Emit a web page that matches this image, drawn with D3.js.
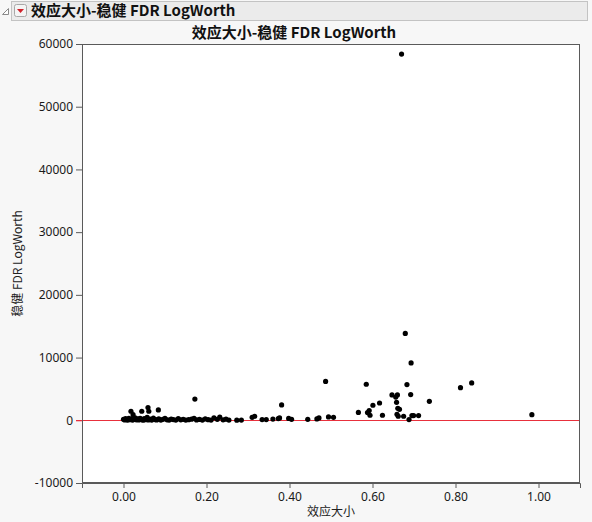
<!DOCTYPE html>
<html>
<head>
<meta charset="utf-8">
<script src="https://cdn.jsdelivr.net/npm/d3@7"></script>
<style>
  body { margin: 0; background: #f7f7f7; }
  svg { display: block; }
</style>
</head>
<body>
<svg width="592" height="522"></svg>
<script>
// values
var titleText = "效应大小-稳健 FDR LogWorth";
var xLabel = "效应大小";
var yLabel = "稳健 FDR LogWorth";

var xTicks = [0, 0.2, 0.4, 0.6, 0.8, 1.0];
var yTicks = [-10000, 0, 10000, 20000, 30000, 40000, 50000, 60000];

// effect size
var effect = [
  0.000, 0.003, 0.005, 0.008, 0.010, 0.013, 0.016, 0.019, 0.022, 0.025,
  0.028, 0.031, 0.034, 0.037, 0.040, 0.043, 0.047, 0.050, 0.053, 0.057,
  0.060, 0.064, 0.068, 0.072, 0.076, 0.080, 0.085, 0.090, 0.095, 0.100,
  0.105, 0.110, 0.115, 0.120, 0.126, 0.132, 0.138, 0.144, 0.150, 0.157,
  0.164, 0.170, 0.176, 0.183, 0.190, 0.197, 0.204, 0.211, 0.218, 0.226,
  0.232, 0.240, 0.247, 0.254, 0.273, 0.284,
  0.018, 0.023, 0.044, 0.059, 0.061, 0.084, 0.172,
  0.310, 0.316, 0.334, 0.344, 0.360, 0.373, 0.376, 0.381,
  0.398, 0.405, 0.444, 0.466, 0.471, 0.487, 0.494, 0.506,
  0.566, 0.585, 0.588, 0.592, 0.594, 0.601, 0.617, 0.624,
  0.647, 0.656, 0.658, 0.659, 0.660, 0.661, 0.662, 0.665, 0.670, 0.675,
  0.679, 0.683, 0.688, 0.692, 0.693, 0.695, 0.699, 0.711, 0.737,
  0.812, 0.839, 0.984
];
// robust FDR LogWorth
var logWorth = [
  150, 60, 250, 120, 40, 300, 90, 200, 30, 160,
  380, 80, 220, 50, 300, 130, 20, 260, 100, 450,
  60, 200, 30, 350, 120, 60, 240, 40, 150, 320,
  80, 40, 200, 110, 30, 260, 70, 150, 40, 90,
  180, 300, 60, 140, 30, 220, 90, 40, 400, 160,
  500, 80, 180, 40, 20, 30,
  1440, 900, 1440, 2030, 1440, 1650, 3380,
  480, 640, 110, 110, 200, 270, 370, 2450,
  300, 160, 160, 210, 370, 6200, 530, 480,
  1250, 5750, 1230, 1550, 800, 2400, 2760, 800,
  4050, 3700, 2870, 950, 4050, 1900, 640, 1750, 58400, 640,
  13850, 5700, 110, 4100, 9150, 750, 750, 750, 3030,
  5200, 5950, 900
];

var svg = d3.select("svg");
var width = +svg.attr("width");
var height = +svg.attr("height");

var margin = {left: 82, right: 12, top: 44, bottom: 39};
var plotW = width - margin.left - margin.right;
var plotH = height - margin.top - margin.bottom;

var cjk = "'Noto Sans CJK SC', 'Noto Sans', sans-serif";
var tickFont = "'Noto Sans', 'DejaVu Sans', sans-serif";

// outline header bar
svg.append("rect")
  .attr("x", 11.5).attr("y", 1.5).attr("width", 576).attr("height", 19)
  .attr("fill", "#ebebeb").attr("stroke", "#c3c3c3");
// disclosure triangle
svg.append("path")
  .attr("d", "M2.5,14.5 L8.5,8.5 L8.5,14.5 Z")
  .attr("fill", "#fff").attr("stroke", "#8a8a8a");
// red dropdown button
svg.append("rect")
  .attr("x", 14.5).attr("y", 4.5).attr("width", 12).attr("height", 12).attr("rx", 2)
  .attr("fill", "#f4f4f4").attr("stroke", "#a8a8a8");
svg.append("path")
  .attr("d", "M17,9 L24,9 L20.5,13 Z")
  .attr("fill", "#d0202a");
svg.append("text")
  .attr("x", 31).attr("y", 16)
  .attr("font-family", cjk).attr("font-weight", "bold").attr("font-size", 15)
  .attr("fill", "#111")
  .text(titleText);

// chart title
svg.append("text")
  .attr("x", 294).attr("y", 38)
  .attr("text-anchor", "middle")
  .attr("font-family", cjk).attr("font-weight", "bold").attr("font-size", 15)
  .attr("fill", "#111")
  .text(titleText);

var x = d3.scaleLinear().domain([-0.1, 1.1]).range([0, plotW]);
var y = d3.scaleLinear().domain([-10000, 60000]).range([plotH, 0]);

var g = svg.append("g")
  .attr("transform", "translate(" + margin.left + "," + margin.top + ")");

g.append("rect")
  .attr("width", plotW).attr("height", plotH)
  .attr("fill", "#fff");

// zero reference line
g.append("line")
  .attr("x1", -6).attr("x2", plotW)
  .attr("y1", Math.round(y(0)) + 0.5).attr("y2", Math.round(y(0)) + 0.5)
  .attr("stroke", "#e8303c").attr("stroke-width", 1);

var dots = d3.range(effect.length).map(function (i) {
  return {x: effect[i], y: logWorth[i]};
});

g.append("g")
  .selectAll("circle")
  .data(dots)
  .enter()
  .append("circle")
  .attr("cx", function (d) { return x(d.x); })
  .attr("cy", function (d) { return y(d.y); })
  .attr("r", 2.6)
  .attr("fill", "#000");

// frame
g.append("rect")
  .attr("x", 0.5).attr("y", 0.5)
  .attr("width", plotW - 1).attr("height", plotH - 1)
  .attr("fill", "none").attr("stroke", "#5a5a5a");

var xAxis = g.append("g")
  .attr("transform", "translate(0," + plotH + ")")
  .call(d3.axisBottom(x).tickValues(xTicks).tickFormat(d3.format(".2f")).tickSize(5).tickPadding(4));
var yAxis = g.append("g")
  .call(d3.axisLeft(y).tickValues(yTicks).tickFormat(function (d) { return String(d); }).tickSize(6).tickPadding(3));

[xAxis, yAxis].forEach(function (a) {
  a.select(".domain").attr("stroke", "#5a5a5a");
  a.selectAll(".tick line").attr("stroke", "#5a5a5a");
  a.selectAll(".tick text")
    .attr("font-family", tickFont).attr("font-size", 12).attr("fill", "#1a1a1a");
});
yAxis.selectAll(".tick").filter(function (d) { return d === 0; })
  .select("line").attr("stroke", "#e8303c");

svg.append("text")
  .attr("x", 331).attr("y", 516)
  .attr("text-anchor", "middle")
  .attr("font-family", cjk).attr("font-size", 12).attr("fill", "#222")
  .text(xLabel);

svg.append("text")
  .attr("transform", "translate(22," + (margin.top + plotH / 2) + ") rotate(-90)")
  .attr("text-anchor", "middle")
  .attr("font-family", cjk).attr("font-size", 12).attr("fill", "#222")
  .text(yLabel);
</script>
</body>
</html>
